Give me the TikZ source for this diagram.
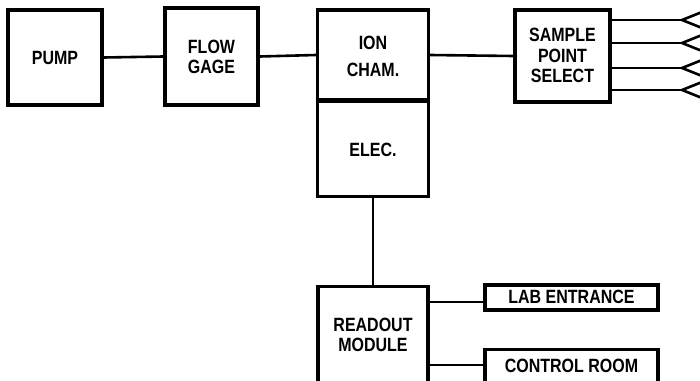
\documentclass[tikz,border=0pt]{standalone}
\usepackage{fontspec}
\setmainfont{Liberation Sans}
\newcommand{\stk}[2][-3pt]{\raisebox{#1}[\height][\depth]{\scalebox{1}[1.2]{\begin{tabular}{@{}c@{}}#2\end{tabular}}}}
\begin{document}
\begin{tikzpicture}[x=1pt,y=-1pt,
  blk/.style={draw,line width=3.2pt,inner sep=0pt,align=center,font=\bfseries\fontsize{16}{17}\selectfont},
  wire/.style={line width=2.6pt}]
\useasboundingbox (0,0) rectangle (700,380);
\clip (0,0) rectangle (700,380);
\node[blk,minimum width=94pt,minimum height=95pt] (pump) at (55,57.5) {\stk{PUMP}};
\node[blk,minimum width=93pt,minimum height=97pt] (flow) at (211.5,56.5) {\stk{FLOW\\GAGE}};
\node[blk,minimum width=111pt,minimum height=90pt] (ion) at (373,55) {\stk[-4pt]{ION\\[5pt]CHAM.}};
\node[blk,minimum width=111pt,minimum height=95pt,anchor=north] (elec) at (373,100) {\stk{ELEC.}};
\node[blk,minimum width=95pt,minimum height=92pt] (samp) at (562.5,56) {\stk[-2pt]{SAMPLE\\POINT\\SELECT}};
\node[blk,minimum width=110pt,minimum height=110pt,anchor=north] (read) at (373,285) {\stk[4pt]{READOUT\\MODULE}};
\node[blk,minimum width=173pt,minimum height=25pt] (lab) at (571.5,297.5) {\stk[-2pt]{LAB ENTRANCE}};
\node[blk,minimum width=173pt,minimum height=40pt,anchor=north] (ctrl) at (571.5,348) {\raisebox{0pt}[0pt][0pt]{\stk[-4pt]{CONTROL ROOM}}};
\draw[wire] (pump.east) -- (flow.west);
\draw[wire] (flow.east) -- (ion.west);
\draw[wire] (ion.east) -- (samp.west);
\draw[wire] (elec.south) -- (read.north);
\draw[wire] (read.east |- 0,302) -- (lab.west |- 0,302);
\draw[wire] (read.east |- 0,365) -- (ctrl.west |- 0,365);
\foreach \yy [count=\i] in {20,43,68,90}{
  \coordinate (f\i) at (682,\yy);
  \draw[wire] (samp.east |- f\i) -- (f\i);
  \draw[wire] (702,\yy-8) -- (f\i) -- (702,\yy+8);
}
\end{tikzpicture}
\end{document}
